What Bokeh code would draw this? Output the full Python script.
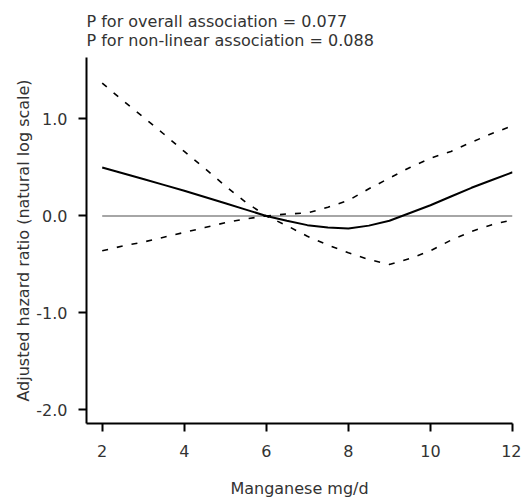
from bokeh.plotting import figure
from bokeh.models import Range1d, FixedTicker
from bokeh.embed import file_html
from bokeh.resources import INLINE

# Data
manganese = [2, 2.5, 3, 3.5, 4, 4.5, 5, 5.5, 6, 6.5, 7, 7.5, 8, 8.5, 9, 9.5, 10, 10.5, 11, 11.5, 12]
hr_estimate = [0.50, 0.44, 0.38, 0.32, 0.26, 0.195, 0.13, 0.065, 0.0, -0.05, -0.095, -0.12, -0.13,
               -0.10, -0.05, 0.03, 0.11, 0.20, 0.29, 0.37, 0.45]
ci_upper = [1.37, 1.19, 1.02, 0.845, 0.665, 0.49, 0.31, 0.14, 0.0, 0.02, 0.03, 0.09, 0.16,
            0.28, 0.39, 0.50, 0.595, 0.665, 0.76, 0.85, 0.93]
ci_lower = [-0.36, -0.31, -0.27, -0.22, -0.17, -0.12, -0.07, -0.03, 0.0, -0.10, -0.21, -0.30, -0.38,
            -0.45, -0.50, -0.44, -0.36, -0.25, -0.16, -0.09, -0.04]
reference_value = 0.0

x_ticks = [2, 4, 6, 8, 10, 12]
y_ticks = [-2.0, -1.0, 0.0, 1.0]
y_tick_labels = ["-2.0", "-1.0", "0.0", "1.0"]

title_line1 = "P for overall association = 0.077"
title_line2 = "P for non-linear association = 0.088"
x_label = "Manganese mg/d"
y_label = "Adjusted hazard ratio (natural log scale)"

FONT = "DejaVu Sans"
TXT = "#333333"

p = figure(width=521, height=501, output_backend="svg", toolbar_location=None,
           x_range=Range1d(1.617, 12.0), y_range=Range1d(-2.141, 1.634),
           min_border_left=86, min_border_right=9, min_border_top=57, min_border_bottom=78)

p.grid.visible = False
p.outline_line_color = None
p.background_fill_color = "white"
p.border_fill_color = "white"

# Two-line title
p.title.text = title_line1 + "\n" + title_line2
p.title.align = "left"
p.title.text_font = FONT
p.title.text_font_size = "16px"
p.title.text_font_style = "normal"
p.title.text_color = TXT
p.title.standoff = 16

# Reference line
p.line(x=[manganese[0], manganese[-1]], y=[reference_value, reference_value],
       line_color="#a6a6a6", line_width=2)

# CI lines
p.line(x=manganese, y=ci_upper, line_color="black", line_width=1.6, line_dash="6 9")
p.line(x=manganese, y=ci_lower, line_color="black", line_width=1.6, line_dash="6 9")

# Estimate
p.line(x=manganese, y=hr_estimate, line_color="black", line_width=2)

# Axes
for ax in (p.xaxis[0], p.yaxis[0]):
    ax.axis_line_color = "black"
    ax.axis_line_width = 2
    ax.major_tick_line_color = "black"
    ax.major_tick_line_width = 2
    ax.major_tick_out = 8
    ax.major_tick_in = 0
    ax.minor_tick_line_color = None
    ax.major_label_text_font = FONT
    ax.major_label_text_font_size = "16px"
    ax.major_label_text_color = TXT
    ax.axis_label_text_font = FONT
    ax.axis_label_text_font_size = "16px"
    ax.axis_label_text_font_style = "normal"
    ax.axis_label_text_color = TXT

p.xaxis[0].ticker = FixedTicker(ticks=x_ticks)
p.xaxis[0].axis_label = x_label
p.xaxis[0].major_label_standoff = 13
p.xaxis[0].axis_label_standoff = 19

p.yaxis[0].ticker = FixedTicker(ticks=y_ticks)
p.yaxis[0].major_label_overrides = {t: l for t, l in zip(y_ticks, y_tick_labels)}
p.yaxis[0].axis_label = y_label
p.yaxis[0].major_label_standoff = 11
p.yaxis[0].axis_label_standoff = 0

open("out.html", "w").write(file_html(p, INLINE))
